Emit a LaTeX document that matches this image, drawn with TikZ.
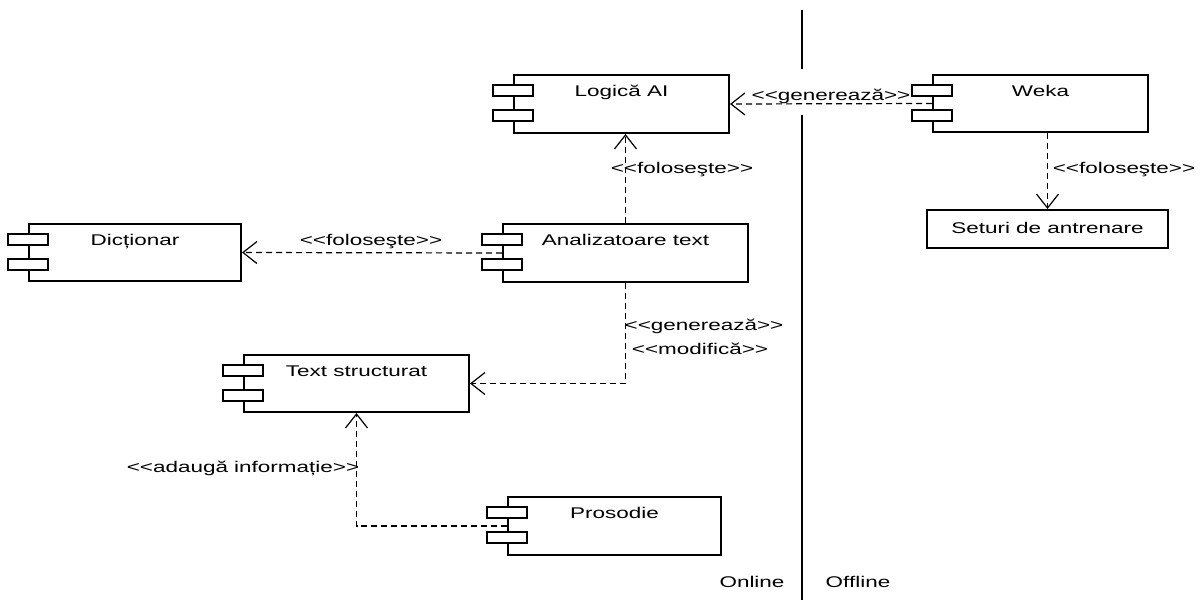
\documentclass[tikz,border=0pt]{standalone}
\usepackage{fontspec}
\setmainfont{Liberation Sans}[FakeStretch=1.45]
\usetikzlibrary{arrows.meta,calc}
\newcommand\stereo[1]{<{}<#1>{}>}
\tikzset{
  compbody/.style={draw, line width=2pt, fill=white, inner sep=0pt, anchor=north west},
  port/.style={draw, line width=2pt, fill=white},
  dep/.style={dash pattern=on 6pt off 4pt, line width=1.2pt,
    -{Straight Barb[length=14pt,width=22pt,line width=1.2pt]}},
  lbl/.style={inner sep=0pt},
  divider/.style={line width=1.5pt}
}
\newcommand\component[6]{%
  \node[compbody, minimum width=#4pt, minimum height=#5pt] (#1) at (#2,#3) {};
  \node[anchor=base, inner sep=0pt] (#1-t) at ([yshift=-22pt]#1.north) {#6};
}
\newcommand\ports[1]{%
  \draw[port] ([xshift=-20pt,yshift=-11pt]#1.north west) rectangle ([xshift=20pt,yshift=-22pt]#1.north west);
  \draw[port] ([xshift=-20pt,yshift=-36pt]#1.north west) rectangle ([xshift=20pt,yshift=-47pt]#1.north west);
}
\begin{document}
\begin{tikzpicture}[x=1pt,y=-1pt,font=\fontsize{15.5}{18}\selectfont]
\useasboundingbox[fill=white] (0,0) rectangle (1202,600);

% divider
\draw[divider] (802,10) -- (802,69);
\draw[divider] (802,115) -- (802,600);
\node[lbl] (online) at (752,582) {Online};
\node[lbl] (offline) at (858,582) {Offline};

% components
\component{logic}{513}{74}{215}{58}{Logică AI}
\component{weka}{932}{74}{215}{57}{Weka}
\component{dict}{28}{223}{212}{57}{Dicționar}
\component{analiz}{502}{223}{245}{58}{Analizatoare text}
\component{textstr}{243}{354}{225}{57}{Text structurat}
\component{pros}{507}{496}{213}{58}{Prosodie}
\node[compbody, minimum width=241pt, minimum height=38pt] (seturi) at (926,209) {};
\node[lbl] (seturi-t) at ($(seturi.center)+(0,-1)$) {Seturi de antrenare};

% connectors
\draw[dep] (weka.west) -- (logic.east);
\draw[dep] (analiz.north) -- (analiz.north |- logic.south);
\draw[dep] (analiz.west) -- (dict.east);
\draw[dep] (analiz.south) |- (textstr.east);
\draw[dep] (pros.west) -| (textstr.south);
\draw[dep] (seturi.north |- weka.south) -- (seturi.north);

\ports{logic}
\ports{weka}
\ports{dict}
\ports{analiz}
\ports{textstr}
\ports{pros}

% labels
\node[lbl] (l1) at (831,96) {\stereo{generează}};
\node[lbl] (l2) at (682,170) {\stereo{foloseşte}};
\node[lbl] (l3) at (371,242) {\stereo{foloseşte}};
\node[lbl] (l4) at (704,326) {\stereo{generează}};
\node[lbl] (l5) at (700,349) {\stereo{modifică}};
\node[lbl] (l6) at (243,468) {\stereo{adaugă informație}};
\node[lbl] (l7) at (1124,170) {\stereo{foloseşte}};
\end{tikzpicture}
\end{document}
